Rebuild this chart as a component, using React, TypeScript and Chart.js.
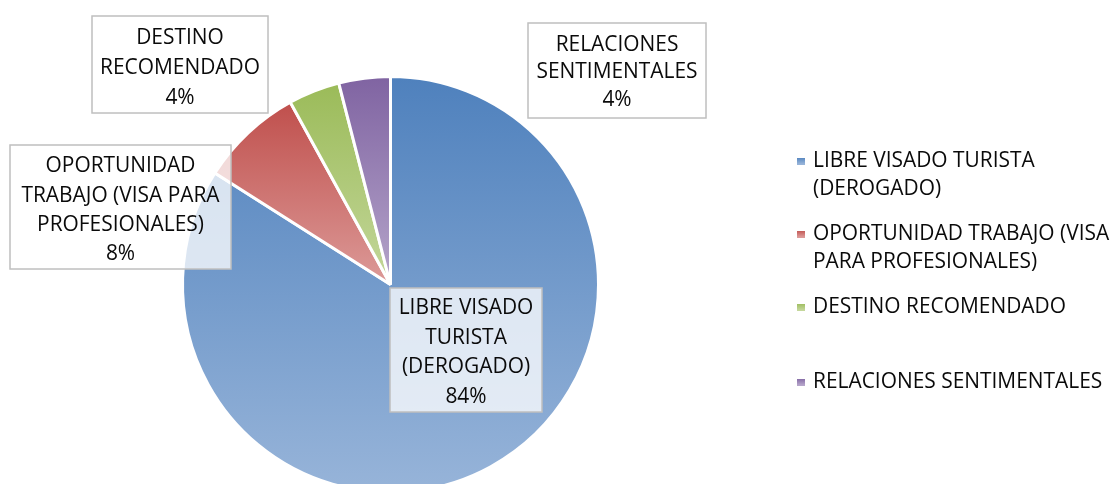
import React, { useEffect, useRef } from "react";
import { Chart, registerables } from "chart.js";

Chart.register(...registerables);

// ---- data ----
const categories = [
  "LIBRE VISADO TURISTA (DEROGADO)",
  "OPORTUNIDAD TRABAJO (VISA PARA PROFESIONALES)",
  "DESTINO RECOMENDADO",
  "RELACIONES SENTIMENTALES",
];
const values = [84, 8, 4, 4];
const labelLines = [
  ["LIBRE VISADO", "TURISTA", "(DEROGADO)"],
  ["OPORTUNIDAD", "TRABAJO (VISA PARA", "PROFESIONALES)"],
  ["DESTINO", "RECOMENDADO"],
  ["RELACIONES", "SENTIMENTALES"],
];
const legendLines = [
  ["LIBRE VISADO TURISTA", "(DEROGADO)"],
  ["OPORTUNIDAD TRABAJO (VISA", "PARA PROFESIONALES)"],
  ["DESTINO RECOMENDADO"],
  ["RELACIONES SENTIMENTALES"],
];
const topColors = ["#4F81BD", "#C0504D", "#9BBB59", "#8064A2"];
const bottomColors = ["#97B4D9", "#DC9A98", "#C4D79B", "#B5A5CA"];

// ---- layout (label boxes and legend placement) ----
const BOXES = [
  { x: 390, y: 288, w: 152, h: 124, first: 307, step: 29.4 },
  { x: 10, y: 145, w: 221, h: 124, first: 165, step: 29.3 },
  { x: 92, y: 16, w: 176, h: 97, first: 37, step: 30 },
  { x: 528, y: 23, w: 178, h: 95, first: 43.5, step: 27.5 },
];
const LEGEND = { markerX: 797, textX: 813, starts: [160, 233, 306, 381], step: 28 };
const FONT_FAMILY = '"Open Sans", "Noto Sans", sans-serif';
const BORDER = 3;

function sliceGeom(chart: any, i: number) {
  const a = chart.chartArea;
  const cx = (a.left + a.right) / 2;
  const cy = (a.top + a.bottom) / 2;
  const r = Math.min(a.width, a.height) / 2 - BORDER;
  const total = values.reduce((s, v) => s + v, 0);
  let cum = 0;
  for (let j = 0; j < i; j++) cum += values[j];
  const start = -Math.PI / 2 + (2 * Math.PI * cum) / total;
  const end = start + (2 * Math.PI * values[i]) / total;
  return { cx, cy, r, start, end };
}

function includesAngle(start: number, end: number, ang: number) {
  for (let k = -2; k <= 2; k++) {
    const t = ang + 2 * Math.PI * k;
    if (t >= start && t <= end) return true;
  }
  return false;
}

function sliceGradient(chart: any, i: number) {
  const { cy, r, start, end } = sliceGeom(chart, i);
  let yMin = Math.min(cy, cy + r * Math.sin(start), cy + r * Math.sin(end));
  let yMax = Math.max(cy, cy + r * Math.sin(start), cy + r * Math.sin(end));
  if (includesAngle(start, end, -Math.PI / 2)) yMin = cy - r;
  if (includesAngle(start, end, Math.PI / 2)) yMax = cy + r;
  const g = chart.ctx.createLinearGradient(0, yMin, 0, yMax);
  g.addColorStop(0, topColors[i]);
  g.addColorStop(1, bottomColors[i]);
  return g;
}

function fontSize(ctx: CanvasRenderingContext2D) {
  ctx.font = `100px ${FONT_FAMILY}`;
  const w = ctx.measureText(legendLines[0][0]).width;
  return (222 * 100) / w;
}

const overlayPlugin = {
  id: "overlay",
  afterDraw(chart: any) {
    const ctx: CanvasRenderingContext2D = chart.ctx;
    const total = values.reduce((s, v) => s + v, 0);
    const size = fontSize(ctx);
    const capHalf = size * 0.357;
    ctx.save();
    ctx.font = `${size}px ${FONT_FAMILY}`;
    ctx.textBaseline = "alphabetic";

    // data label boxes
    BOXES.forEach((b, i) => {
      ctx.fillStyle = "rgba(255,255,255,0.76)";
      ctx.fillRect(b.x, b.y, b.w, b.h);
      ctx.strokeStyle = "#BFBFBF";
      ctx.lineWidth = 1.5;
      ctx.strokeRect(b.x, b.y, b.w, b.h);
      const lines = [...labelLines[i], `${Math.round((values[i] / total) * 100)}%`];
      ctx.fillStyle = "#0A0A0A";
      ctx.textAlign = "center";
      lines.forEach((t, k) => {
        ctx.fillText(t, b.x + b.w / 2, b.first + k * b.step + capHalf);
      });
    });

    // legend
    categories.forEach((_, i) => {
      const y0 = LEGEND.starts[i];
      const g = ctx.createLinearGradient(0, y0 - 3, 0, y0 + 4);
      g.addColorStop(0, topColors[i]);
      g.addColorStop(1, bottomColors[i]);
      ctx.fillStyle = g;
      ctx.fillRect(LEGEND.markerX, y0 - 2, 8, 7);
      ctx.fillStyle = "#0A0A0A";
      ctx.textAlign = "left";
      legendLines[i].forEach((t, k) => {
        ctx.fillText(t, LEGEND.textX, y0 + k * LEGEND.step + capHalf);
      });
    });
    ctx.restore();
  },
};

export default function App() {
  const canvasRef = useRef<HTMLCanvasElement | null>(null);

  useEffect(() => {
    const canvas = canvasRef.current;
    if (!canvas) return;
    const chart = new Chart(canvas, {
      type: "pie",
      data: {
        labels: categories,
        datasets: [
          {
            data: values,
            backgroundColor: (c: any) => {
              const chart = c.chart;
              if (!chart.chartArea) return topColors[c.dataIndex];
              return sliceGradient(chart, c.dataIndex);
            },
            borderColor: "#FFFFFF",
            borderWidth: BORDER,
          },
        ],
      },
      options: {
        responsive: false,
        maintainAspectRatio: false,
        animation: false,
        events: [],
        layout: { padding: { left: 181, top: 75, right: 516, bottom: 6 } },
        plugins: {
          legend: { display: false },
          tooltip: { enabled: false },
        },
      },
      plugins: [overlayPlugin],
    });
    return () => chart.destroy();
  }, []);

  return (
    <div
      style={{
        position: "fixed",
        left: 0,
        top: 0,
        width: 1116,
        height: 484,
        overflow: "hidden",
        background: "#FFFFFF",
      }}
    >
      <canvas ref={canvasRef} width={1116} height={500} style={{ width: 1116, height: 500, display: "block" }} />
    </div>
  );
}
